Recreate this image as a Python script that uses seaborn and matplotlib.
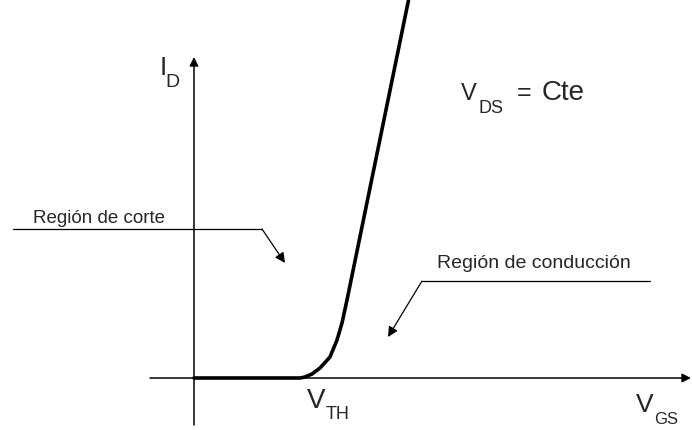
import numpy as np
import pandas as pd
import matplotlib
matplotlib.use("Agg")
import matplotlib.pyplot as plt
import seaborn as sns

# transfer characteristic I_D(V_GS), arbitrary units (origin at the axes crossing)
vgs = [0.00, 1.06, 1.11, 1.18, 1.26, 1.36, 1.43, 1.48, 1.53, 2.17]
id_ = [0.00, 0.00, 0.01, 0.04, 0.10, 0.21, 0.38, 0.55, 0.78, 3.90]

region_labels = ["Región de corte", "Región de conducción"]
condition_label = "Cte"

sns.set_style("white")
plt.rcParams["font.family"] = ["Liberation Sans", "DejaVu Sans"]

df = pd.DataFrame({"VGS": vgs, "ID": id_})

fig = plt.figure(figsize=(6.92, 4.30), dpi=100)
ax = fig.add_axes([0, 0, 1, 1])
ax.set_xlim(-1.94, 4.98)
ax.set_ylim(-0.52, 3.78)
ax.axis("off")

# axes with arrow heads
arrow_kw = dict(arrowstyle="-|>", color="black", lw=1.1, mutation_scale=13,
                shrinkA=0, shrinkB=0)
ax.annotate("", xy=(4.97, 0), xytext=(-0.44, 0), arrowprops=arrow_kw)
ax.annotate("", xy=(0, 3.21), xytext=(0, -0.47), arrowprops=arrow_kw)

# curve
sns.lineplot(data=df, x="VGS", y="ID", ax=ax, color="black", lw=2.6,
             sort=False, estimator=None, legend=False)
ax.set_xlim(-1.94, 4.98)
ax.set_ylim(-0.52, 3.78)

# leader lines for the regions
lead_kw = dict(arrowstyle="-|>", color="black", lw=0.9, mutation_scale=15,
               shrinkA=0, shrinkB=0)
ax.plot([-1.81, 0.68], [1.49, 1.49], color="black", lw=0.9)
ax.annotate("", xy=(0.91, 1.15), xytext=(0.68, 1.49), arrowprops=lead_kw)
ax.plot([2.28, 4.56], [0.97, 0.97], color="black", lw=0.9)
ax.annotate("", xy=(1.94, 0.41), xytext=(2.28, 0.97), arrowprops=lead_kw)

ax.text(-1.61, 1.55, region_labels[0], fontsize=13.5, va="baseline", ha="left")
ax.text(2.43, 1.10, region_labels[1], fontsize=14, va="baseline", ha="left")

# axis labels with subscripts
ax.text(-0.34, 3.03, "I", fontsize=19, va="baseline", ha="left")
ax.text(-0.29, 2.91, "D", fontsize=14, va="baseline", ha="left")

ax.text(2.67, 2.78, "V", fontsize=17, va="baseline", ha="left")
ax.text(2.84, 2.65, "DS", fontsize=13, va="baseline", ha="left")
ax.text(3.23, 2.78, "=", fontsize=18, va="baseline", ha="left")
ax.text(3.48, 2.78, condition_label, fontsize=20, va="baseline", ha="left")

ax.text(1.13, -0.30, "V", fontsize=20, va="baseline", ha="left")
ax.text(1.32, -0.41, "TH", fontsize=13, va="baseline", ha="left")

ax.text(4.42, -0.34, "V", fontsize=19, va="baseline", ha="left")
ax.text(4.60, -0.46, "GS", fontsize=12, va="baseline", ha="left")

fig.savefig("out.png", dpi=100)
